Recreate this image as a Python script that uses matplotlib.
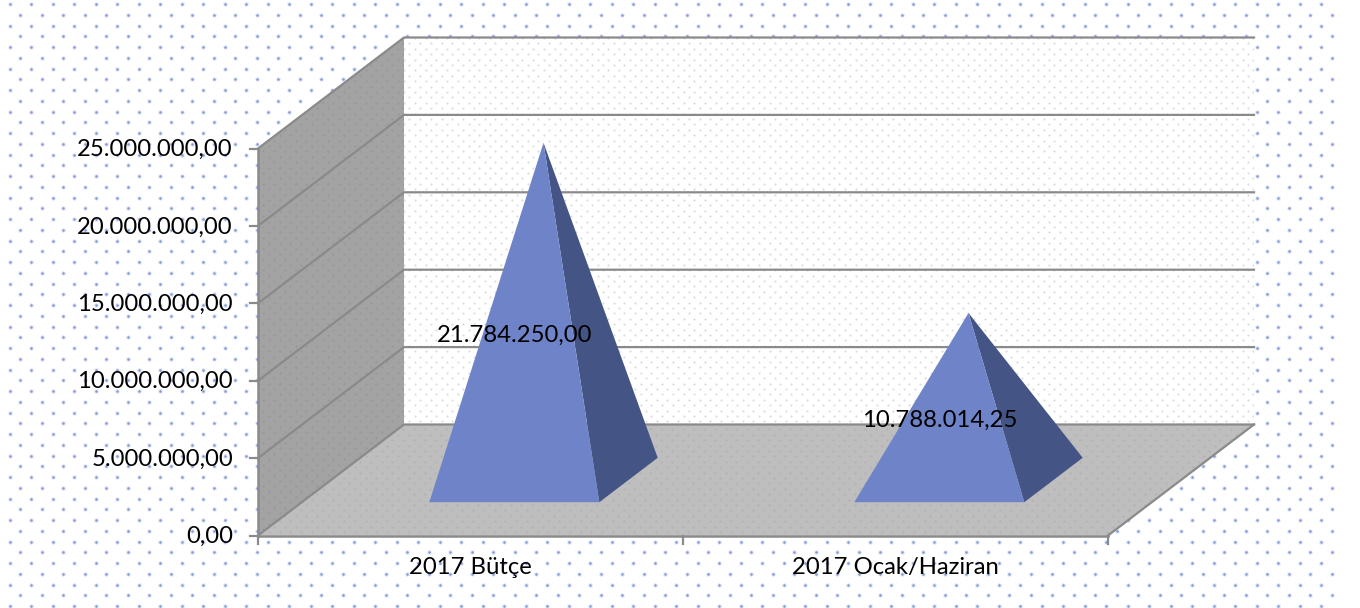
import matplotlib
matplotlib.use('Agg')
import matplotlib.pyplot as plt
from matplotlib.patches import Polygon
import numpy as np

plt.rcParams['font.family'] = ['Lato', 'DejaVu Sans']

# data
categories = ['2017 Bütçe', '2017 Ocak/Haziran']
values = [21784250.00, 10788014.25]
value_labels = ['21.784.250,00', '10.788.014,25']
y_ticks = [0, 5000000, 10000000, 15000000, 20000000, 25000000]
y_tick_labels = ['0,00', '5.000.000,00', '10.000.000,00', '15.000.000,00', '20.000.000,00', '25.000.000,00']

# 3d box in pixels
X0, Y0 = 258, 535.5
CAT_W = 425
PX_PER_VAL = 387 / 25000000
DX, DY = 146, -111
HALF = 0.2

LINE = '#8a8a8a'
FONT = 17.2


def proj(c, v, d):
    # c: category position, v: value, d: depth 0..1
    return (X0 + c * CAT_W + d * DX, Y0 - v * PX_PER_VAL + d * DY)


def dots(ax, x0, x1, y0, y1, step_x, step_y, color, size, alpha, zorder, clip=None):
    rows = np.arange(y0, y1, step_y)
    for i, y in enumerate(rows):
        xs = np.arange(x0 + (i % 2) * step_x / 2, x1, step_x)
        sc = ax.scatter(xs, np.full(len(xs), y), s=size, color=color, alpha=alpha,
                        linewidths=0, zorder=zorder)
        if clip is not None:
            sc.set_clip_path(clip)


fig = plt.figure(figsize=(13.6, 6.08), dpi=100)
ax = fig.add_axes([0, 0, 1, 1])
ax.set_xlim(0, 1360)
ax.set_ylim(608, 0)
ax.axis('off')

# page dots
dots(ax, 9.7, 1340, 4, 608, 21.5, 10.75, '#8fa0dc', 11, 0.25, 1)
dots(ax, 9.7, 1340, 4, 608, 21.5, 10.75, '#7489cf', 3.2, 0.85, 1)

top = y_ticks[-1]
n = len(categories)

# walls
back = Polygon([proj(0, 0, 1), proj(n, 0, 1), proj(n, top, 1), proj(0, top, 1)],
               facecolor='white', edgecolor='none', zorder=2)
left = Polygon([proj(0, 0, 0), proj(0, 0, 1), proj(0, top, 1), proj(0, top, 0)],
               facecolor='#a3a3a3', edgecolor='none', zorder=2)
floor = Polygon([proj(0, 0, 0), proj(n, 0, 0), proj(n, 0, 1), proj(0, 0, 1)],
                facecolor='#bebebe', edgecolor='none', zorder=2)
for p in (back, left, floor):
    ax.add_patch(p)

dots(ax, 404, 1260, 38, 430, 10.75, 5.4, '#d4d4d4', 2.4, 0.8, 2.1, clip=back)
dots(ax, 258, 410, 38, 540, 10.75, 5.4, '#909090', 2.2, 0.6, 2.1, clip=left)
dots(ax, 258, 1260, 424, 540, 10.75, 5.4, '#acacac', 2.4, 0.7, 2.1, clip=floor)

# gridlines
for t in y_ticks:
    a, b, c = proj(0, t, 0), proj(0, t, 1), proj(n, t, 1)
    ax.plot([a[0], b[0], c[0]], [a[1], b[1], c[1]], color=LINE, lw=1.6, zorder=3,
            solid_joinstyle='miter')

# floor right edge
a, b = proj(n, 0, 0), proj(n, 0, 1)
ax.plot([a[0], b[0]], [a[1], b[1]], color=LINE, lw=1.6, zorder=3)

# axes
a, b = proj(0, 0, 0), proj(0, top, 0)
ax.plot([a[0], b[0]], [a[1], b[1]], color=LINE, lw=1.8, zorder=3)
a, b = proj(0, 0, 0), proj(n, 0, 0)
ax.plot([a[0], b[0]], [a[1], b[1]], color=LINE, lw=1.8, zorder=3)

# ticks
for t, lab in zip(y_ticks, y_tick_labels):
    x, y = proj(0, t, 0)
    ax.plot([x - 8, x], [y, y], color=LINE, lw=1.6, zorder=3)
    ax.text(x - 25, y + 1, lab, ha='right', va='center', fontsize=FONT, color='black', zorder=6)
for i in range(n + 1):
    x, y = proj(i, 0, 0)
    ax.plot([x, x], [y, y + 8], color=LINE, lw=1.6, zorder=3)
for i, lab in enumerate(categories):
    x, y = proj(i + 0.5, 0, 0)
    ax.text(x, y + 32, lab, ha='center', va='center', fontsize=FONT, color='black', zorder=6)

# pyramids
for i, (v, lab) in enumerate(zip(values, value_labels)):
    c = i + 0.5
    fl = proj(c - HALF, 0, 0.5 - HALF)
    fr = proj(c + HALF, 0, 0.5 - HALF)
    br = proj(c + HALF, 0, 0.5 + HALF)
    apex = proj(c, v, 0.5)
    ax.add_patch(Polygon([fr, br, apex], facecolor='#445485', edgecolor='none', zorder=4))
    ax.add_patch(Polygon([fl, fr, apex], facecolor='#6e83c8', edgecolor='none', zorder=5))
    x, y = proj(c, v / 2, 0.3)
    ax.text(x, y + 2, lab, ha='center', va='center', fontsize=FONT, color='black', zorder=6)

fig.savefig('out.png', dpi=100)
